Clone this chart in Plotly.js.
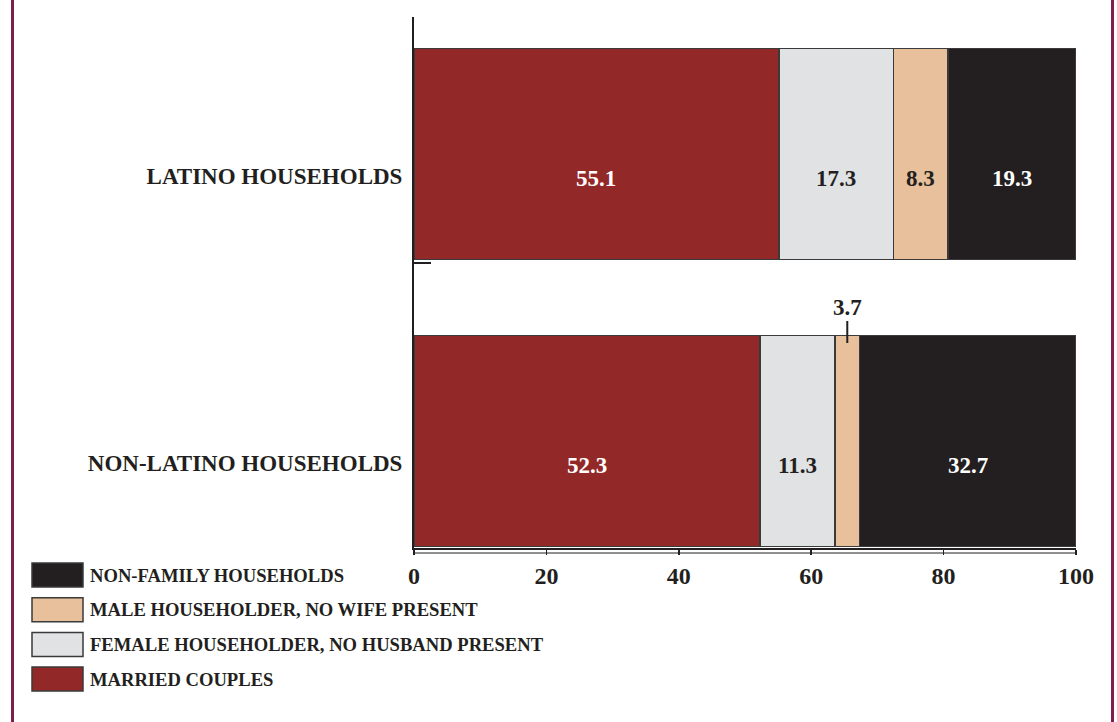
<!DOCTYPE html>
<html>
<head>
<meta charset="utf-8">
<script src="https://cdn.plot.ly/plotly-3.0.1.min.js"></script>
<style>
  html, body { margin: 0; padding: 0; background: #ffffff; }
  #chart { width: 1117px; height: 722px; }
</style>
</head>
<body>
<div id="chart"></div>
<script>
// ---- data ----
const categories = ["NON-LATINO HOUSEHOLDS", "LATINO HOUSEHOLDS"];
const seriesNames = [
  "MARRIED COUPLES",
  "FEMALE HOUSEHOLDER, NO HUSBAND PRESENT",
  "MALE HOUSEHOLDER, NO WIFE PRESENT",
  "NON-FAMILY HOUSEHOLDS"
];
const marriedCouples = [52.3, 55.1];
const femaleHouseholder = [11.3, 17.3];
const maleHouseholder = [3.7, 8.3];
const nonFamily = [32.7, 19.3];
const xTickValues = [0, 20, 40, 60, 80, 100];

// ---- styles ----
const seriesValues = [marriedCouples, femaleHouseholder, maleHouseholder, nonFamily];
const colors = ["#922827", "#e1e2e4", "#e8c09c", "#231f20"];
const labelColors = ["#ffffff", "#231f20", "#231f20", "#ffffff"];
const FONT = "'Liberation Serif', 'Times New Roman', serif";
const INK = "#231f20";

const traces = seriesValues.map((vals, i) => ({
  type: "bar",
  orientation: "h",
  name: seriesNames[i],
  x: vals,
  y: categories,
  offset: -0.29,
  width: 0.735,
  marker: { color: colors[i], line: { color: "#3a3a3a", width: 1.5 } },
  hoverinfo: "x+name",
  showlegend: false
}));

// value annotations computed from data
const annotations = [];
categories.forEach((cat, ci) => {
  let base = 0;
  seriesValues.forEach((vals, si) => {
    const v = vals[ci];
    const mid = base + v / 2;
    base += v;
    const small = v < 5;
    if (small) {
      annotations.push({
        x: mid, y: ci + 0.418, xref: "x", yref: "y",
        text: v.toFixed(1), showarrow: true, arrowhead: 0, arrowwidth: 2,
        arrowcolor: INK, ax: 0, ay: -36, standoff: 0,
        font: { family: FONT, size: 23, color: INK, weight: 700 }
      });
    } else {
      annotations.push({
        x: mid, y: cat, xref: "x", yref: "y", yshift: -2,
        text: v.toFixed(1), showarrow: false,
        font: { family: FONT, size: 23, color: labelColors[si], weight: 700 }
      });
    }
  });
});

// legend (reversed order), drawn from series data
const px2x = px => (px - 414) / 662;
const py2y = py => (548 - py) / 531;
const shapes = [];
const legendOrder = [3, 2, 1, 0];
legendOrder.forEach((si, row) => {
  const cy = 575 + row * 34.7;
  shapes.push({
    type: "rect", xref: "paper", yref: "paper",
    x0: px2x(32), x1: px2x(83), y0: py2y(cy + 12), y1: py2y(cy - 12),
    fillcolor: colors[si], line: { color: "#3a3a3a", width: 1.5 }
  });
  annotations.push({
    xref: "paper", yref: "paper", x: px2x(88), y: py2y(cy),
    xanchor: "left", yanchor: "middle", showarrow: false,
    text: seriesNames[si],
    font: { family: FONT, size: 18.6, color: INK, weight: 700 }
  });
});

// decorative: frame border lines, small y tick, bottom double line
shapes.push({ type: "line", xref: "paper", yref: "paper", x0: px2x(12.5), x1: px2x(12.5), y0: -0.5, y1: 1.2, line: { color: "#7b1f4f", width: 3 } });
shapes.push({ type: "line", xref: "paper", yref: "paper", x0: px2x(1112.5), x1: px2x(1112.5), y0: -0.5, y1: 1.2, line: { color: "#7b1f4f", width: 3 } });
shapes.push({ type: "line", xref: "paper", yref: "paper", x0: 0, x1: px2x(431), y0: py2y(263), y1: py2y(263), line: { color: INK, width: 2 } });
shapes.push({ type: "line", xref: "paper", yref: "paper", x0: 0, x1: 1, y0: py2y(553), y1: py2y(553), line: { color: INK, width: 1 } });

const layout = {
  width: 1117, height: 722,
  margin: { l: 414, r: 41, t: 17, b: 174 },
  paper_bgcolor: "#ffffff", plot_bgcolor: "#ffffff",
  barmode: "stack",
  showlegend: false,
  xaxis: {
    range: [0, 100],
    tickvals: xTickValues,
    ticktext: xTickValues.map(String),
    showgrid: false, zeroline: false,
    showline: true, linecolor: INK, linewidth: 2,
    ticks: "outside", ticklen: 5, tickwidth: 1.5, tickcolor: INK,
    ticklabelstandoff: 0,
    tickfont: { family: FONT, size: 24, color: INK, weight: 700 },
    fixedrange: true
  },
  yaxis: {
    type: "category",
    categoryorder: "array", categoryarray: categories,
    range: [-0.296, 1.554],
    showgrid: false, zeroline: false,
    showline: true, linecolor: INK, linewidth: 2,
    ticks: "", ticklabelstandoff: 5,
    tickfont: { family: FONT, size: 23, color: INK, weight: 700 },
    fixedrange: true
  },
  annotations: annotations,
  shapes: shapes
};

Plotly.newPlot("chart", traces, layout, { displayModeBar: false, staticPlot: true });
</script>
</body>
</html>
